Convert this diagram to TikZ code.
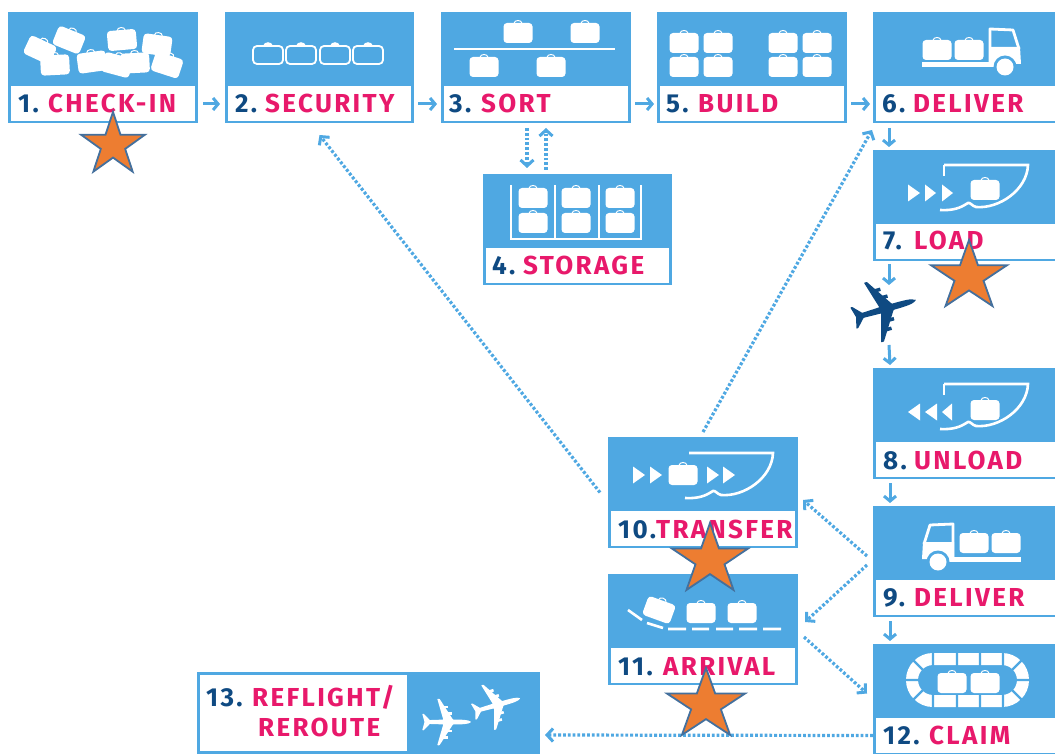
\documentclass[tikz,border=0pt]{standalone}
\usepackage{fontspec}
\setmainfont{Fira Sans}[LetterSpace=9]
\usetikzlibrary{arrows.meta}
\definecolor{skyb}{HTML}{4FA8E2}
\definecolor{navy}{HTML}{0F4A82}
\definecolor{pinkl}{HTML}{E8196B}
\definecolor{starfill}{HTML}{ED7D31}
\definecolor{starline}{HTML}{44709D}
\tikzset{
  boxnode/.style={fill=skyb,draw=none,inner sep=0pt,outer sep=0pt,anchor=north west,minimum height=111pt},
  plate/.style={fill=white,draw=none,inner sep=0pt,outer sep=0pt,anchor=north west},
  numtxt/.style={anchor=base west,inner sep=0pt,text=navy,font=\fontsize{26}{26}\selectfont\bfseries},
  nametxt/.style={anchor=base west,inner sep=0pt,text=pinkl,font=\fontsize{26}{26}\selectfont\bfseries},
  arr/.style={draw=skyb,line width=3pt,-{Straight Barb[length=5pt,width=12pt,line width=3pt]}},
  dotarr/.style={draw=skyb,line width=3.2pt,dash pattern=on 2.8pt off 2pt,-{Straight Barb[length=6pt,width=13pt,line width=3pt]}},
  wl/.style={draw=white,line width=2.4pt},
  bag/.pic={
    \fill[white,rounded corners=3.5pt] (-14.5,-10) rectangle (14.5,10);
    \draw[white,line width=1pt] (-4,-9.5) .. controls (-4,-13.5) and (4,-13.5) .. (4,-9.5);
  },
  bagline/.pic={
    \draw[white,line width=1.8pt,rounded corners=4pt] (-15,-9) rectangle (15,9);
    \fill[white] (-5,-9) .. controls (-4,-14) and (4,-14) .. (5,-9) -- cycle;
  },
  plane/.pic={
    \fill[pic actions,rounded corners=0.5pt]
      (32,0) .. controls (29,-3) and (20,-3.2) .. (8,-3.2)
      -- (-10,-31) -- (-13,-31) -- (-5,-3.2) -- (-23,-2.6)
      -- (-31,-11) -- (-33,-11) -- (-30,0)
      -- (-33,11) -- (-31,11) -- (-23,2.6) -- (-5,3.2)
      -- (-13,31) -- (-10,31) -- (8,3.2)
      .. controls (20,3.2) and (29,3) .. (32,0) -- cycle;
    \fill[pic actions] (-1,-13.5) rectangle (6,-10);
    \fill[pic actions] (-6,-22) rectangle (1,-18.5);
    \fill[pic actions] (-1,10) rectangle (6,13.5);
    \fill[pic actions] (-6,18.5) rectangle (1,22);
  },
  truck/.pic={
    \fill[white] (-83,-5) rectangle (-5,0);
    \draw[white,line width=2.8pt,line join=round] (-15,-2) -- (-15,-38) -- (8,-37) -- (14,-18);
    \fill[white] (-16,-20) -- (15,-20) -- (16,-3) -- (-16,-3) -- cycle;
    \fill[skyb] (0,0) circle (11.5);
    \fill[white] (0,0) circle (8.5);
  },
  hullpath/.pic={
    \draw[white,line width=2.6pt] (0,0) -- (84,0) .. controls (83,25) and (55,44) .. (32,42)
      .. controls (28,41) and (26,37) .. (24,38) .. controls (20,40) and (14,46) .. (-4,45);
  },
  starshape/.pic={
    \draw[fill=starfill,draw=starline,line width=1.8pt,miter limit=10]
      (90:1) -- (126:0.382) -- (162:1) -- (198:0.382) -- (234:1) -- (270:0.382)
      -- (306:1) -- (342:0.382) -- (18:1) -- (54:0.382) -- cycle;
  }
}
\newcommand{\flowbox}[4]{%
  \node[boxnode,minimum width=#4 pt] (#1) at (#2,#3) {};
  \node[plate,minimum width=#4 pt-6pt,minimum height=35pt] (#1p) at (#2+3,#3+74) {};
}
\newcommand{\rtri}[3]{\fill[white] (#1,#3-8.5) -- (#2,#3) -- (#1,#3+8.5) -- cycle;}
\begin{document}
\begin{tikzpicture}[x=1pt,y=-1pt]
\useasboundingbox (0,0) rectangle (1055,754);
\clip (0,0) rectangle (1055,754);

% boxes
\flowbox{b1}{8}{12}{190}
\flowbox{b2}{225}{12}{189}
\flowbox{b3}{441}{12}{190}
\flowbox{b5}{657}{12}{190}
\flowbox{b6}{873}{12}{190}
\flowbox{b7}{873}{150}{190}
\flowbox{b4}{483}{174}{189}
\flowbox{b8}{873}{368}{190}
\flowbox{b9}{873}{506}{190}
\flowbox{b12}{873}{644}{190}
\flowbox{b10}{608}{437}{190}
\flowbox{b11}{608}{574}{190}
\node[boxnode,minimum width=343pt,minimum height=82pt] (b13) at (197,672) {};
\node[plate,minimum width=207pt,minimum height=76pt] (b13p) at (200,675) {};

% box 1 icon
\pic[rotate=-25] at (40,50) {bag};
\pic[rotate=-22] at (69,40) {bag};
\pic[rotate=3] at (55,65) {bag};
\pic[rotate=8] at (92,62) {bag};
\pic[rotate=5] at (122,40) {bag};
\pic[rotate=-8] at (157,45) {bag};
\pic[rotate=-15] at (117,65) {bag};
\pic[rotate=3] at (135,63) {bag};
\pic[rotate=-18] at (167,65) {bag};
% box 2 icon
\pic at (268,55) {bagline};
\pic at (301,55) {bagline};
\pic at (335,55) {bagline};
\pic at (368,55) {bagline};
% box 3 icon
\draw[white,line width=2.8pt] (454,49) -- (615,49);
\pic at (518,33) {bag};
\pic at (585,33) {bag};
\pic at (484,67) {bag};
\pic at (551,67) {bag};
% box 5 icon
\foreach \x in {684,718,783,817}{\foreach \y in {43,67}{\pic at (\x,\y) {bag};}}
% box 4 icon
\foreach \x in {533,576,620}{\foreach \y in {198,223}{\pic at (\x,\y) {bag};}}
\draw[wl] (511,185) -- (511,239) -- (641,239) -- (641,185);
\draw[wl] (555,185) -- (555,239);
\draw[wl] (599,185) -- (599,239);
% box 6 icon
\pic at (937,50) {bag};
\pic at (969,50) {bag};
\pic at (1005,67) {truck};
% box 7 icon
\rtri{908}{920}{193}\rtri{925}{936}{193}\rtri{942}{953}{193}
\pic at (944,165) {hullpath};
\draw[wl] (944,176) -- (944,165);
\pic at (985,190) {bag};
% box 8 icon
\rtri{920}{908}{412}\rtri{937}{925}{412}\rtri{952}{942}{412}
\pic at (944,384) {hullpath};
\draw[wl] (944,395) -- (944,384);
\pic at (985,410) {bag};
% box 9 icon
\pic at (974,543) {bag};
\pic at (1006,543) {bag};
\pic[xscale=-1] at (938,562) {truck};
% box 10 icon
\rtri{633}{645}{475}\rtri{650}{662}{475}\rtri{707}{719}{475}\rtri{723}{735}{475}
\pic at (689,453) {hullpath};
\pic at (683,475) {bag};
% box 11 icon
\pic[rotate=-20] at (659,610) {bag};
\pic at (701,613) {bag};
\pic at (742,613) {bag};
\draw[white,line width=2.6pt] (628,610) -- (642,620) (647,623) -- (663,628)
  (668,629) -- (686,629) (692,629) -- (709,629) (716,629) -- (733,629)
  (739,629) -- (757,629) (763,629) -- (781,629);
% box 12 icon
\draw[white,line width=12pt,rounded corners=21pt] (912,659) rectangle (1023,701);
\draw[skyb,line width=2.2pt]
  (933,650) -- (933,668) (957,650) -- (957,668) (980,650) -- (980,668) (1003,650) -- (1003,668)
  (933,692) -- (933,710) (957,692) -- (957,710) (980,692) -- (980,710) (1003,692) -- (1003,710)
  (905,680) -- (921,680) (1014,680) -- (1030,680)
  (912,659) -- (925,672) (912,701) -- (925,688) (1023,659) -- (1010,672) (1023,701) -- (1010,688);
\pic at (952,683) {bag};
\pic at (985,683) {bag};
% box 13 icon
\pic[fill=white,scale=0.75] at (447,722) {plane};
\pic[fill=white,scale=0.75,rotate=16] at (497,705) {plane};

% labels
\node[numtxt] (n1) at (18,113) {1.};
\node[nametxt] (t1) at (48,113) {CHECK-IN};
\node[numtxt] (n2) at (235,113) {2.};
\node[nametxt] (t2) at (265,113) {SECURITY};
\node[numtxt] (n3) at (449,113) {3.};
\node[nametxt] (t3) at (481,113) {SORT};
\node[numtxt] (n5) at (666,113) {5.};
\node[nametxt] (t5) at (698,113) {BUILD};
\node[numtxt] (n6) at (882,113) {6.};
\node[nametxt] (t6) at (913,113) {DELIVER};
\node[numtxt] (n7) at (883,250) {7.};
\node[nametxt] (t7) at (914,250) {LOAD};
\node[numtxt] (n4) at (492,274) {4.};
\node[nametxt] (t4) at (523,274) {STORAGE};
\node[numtxt] (n8) at (883,469) {8.};
\node[nametxt] (t8) at (914,469) {UNLOAD};
\node[numtxt] (n9) at (883,606) {9.};
\node[nametxt] (t9) at (914,606) {DELIVER};
\node[numtxt] (n10) at (618,538) {10.};
\node[nametxt] (t10) at (656,538) {TRANSFER};
\node[numtxt] (n11) at (618,675) {11.};
\node[nametxt] (t11) at (663,675) {ARRIVAL};
\node[numtxt] (n12) at (883,744) {12.};
\node[nametxt] (t12) at (929,744) {CLAIM};
\node[numtxt] (n13) at (206,706) {13.};
\node[nametxt] (t13) at (252,706) {REFLIGHT/};
\node[nametxt] (t13b) at (258,736) {REROUTE};

% plane
\pic[fill=navy,rotate=16] at (885,309) {plane};
\coordinate (pl) at (889,313);

% solid connectors
\draw[arr] ([xshift=5pt,yshift=-36.5pt]b1.east) -- ([xshift=-5pt,yshift=-36.5pt]b2.west);
\draw[arr] ([xshift=4pt,yshift=-36.5pt]b2.east) -- ([xshift=-4pt,yshift=-36.5pt]b3.west);
\draw[arr] ([xshift=4pt,yshift=-36.5pt]b3.east) -- ([xshift=-3pt,yshift=-36.5pt]b5.west);
\draw[arr] ([xshift=4pt,yshift=-36.5pt]b5.east) -- ([xshift=-3pt,yshift=-36.5pt]b6.west);
\draw[arr] ([xshift=16pt,yshift=-5pt]b6.south west) -- ([xshift=16pt,yshift=3pt]b7.north west);
\draw[arr] ([xshift=16pt,yshift=-3pt]b7.south west) -- ([yshift=28pt]pl);
\draw[arr] ([yshift=-32pt]pl) -- ([xshift=17pt,yshift=3pt]b8.north west);
\draw[arr] ([xshift=17pt,yshift=-4pt]b8.south west) -- ([xshift=17pt,yshift=3pt]b9.north west);
\draw[arr] ([xshift=17pt,yshift=-4pt]b9.south west) -- ([xshift=17pt,yshift=3pt]b12.north west);

% dotted connectors
\draw[dotarr] ([xshift=86pt,yshift=-5pt]b3.south west) -- ([xshift=44pt,yshift=6pt]b4.north west);
\draw[dotarr] ([xshift=63pt,yshift=4pt]b4.north west) -- ([xshift=105pt,yshift=-5pt]b3.south west);
\draw[dotarr] ([xshift=-8pt]b10.west) -- ([yshift=-12pt]b2.south);
\draw[dotarr] ([yshift=5pt]b10.north) -- ([xshift=-1pt,yshift=-7pt]b6.south west);
\draw[dotarr] ([xshift=-6pt,yshift=5.5pt]b9.west) -- ([xshift=5pt,yshift=-7.5pt]b10.east);
\draw[dotarr] ([xshift=-6pt,yshift=-3.5pt]b9.west) -- ([xshift=7pt,yshift=7.5pt]b11.east);
\draw[dotarr] ([xshift=6pt,yshift=-7.5pt]b11.east) -- ([xshift=-6pt,yshift=6pt]b12.west);
\draw[dotarr] ([yshift=-36pt]b12.west) -- ([xshift=5pt,yshift=-22pt]b13.east);

% stars
\pic[xscale=33.5,yscale=-33] at (113,145) {starshape};
\pic[xscale=40,yscale=-36.5] at (969,276.5) {starshape};
\pic[xscale=40,yscale=-37] at (710,560) {starshape};
\pic[xscale=41,yscale=-37] at (706,705) {starshape};
\end{tikzpicture}
\end{document}
